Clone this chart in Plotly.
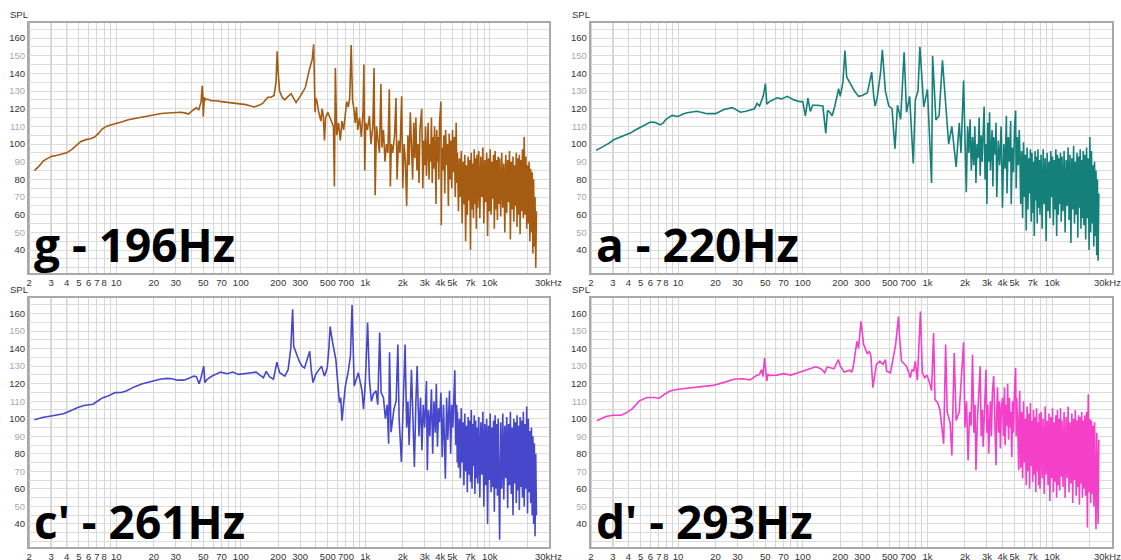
import numpy as np
import plotly.graph_objects as go

W, H = 1121, 560

# ---------------- data ----------------
titles = ["g - 196Hz", "a - 220Hz", "c' - 261Hz", "d' - 293Hz"]
colors = ["#a65b13", "#15807a", "#4747cc", "#f43fc8"]

# low / mid frequency part of each spectrum: (Hz, dB SPL)
g_points = [(2.2,85),(2.4,87.5),(2.6,90.5),(2.8,92),(3,93),(3.3,93.5),(3.6,94),(4,95),(4.4,97),(4.8,99.5),
            (5.2,101.5),(5.7,102.5),(6.2,103),(6.7,104),(7.2,106),(7.7,108.5),(8.3,110),(9,110.8),(10,111.5),
            (11,112.5),(12.5,113.8),(14,114.5),(16,115.3),(18,116),(20,116.8),(23,117.3),(26,117.6),(30,118),
            (33,118),(36,117.5),(38,117),(41,119),(44,120.5),(46,119.5),(47,121.5),(48,124),(49,133),(49.5,128),
            (50,115.5),(50.5,122),(51,126.5),(52,125),(54,125.5),(58,124.5),(63,124.5),(70,124),(80,123.5),
            (90,123),(100,122.5),(110,122.3),(120,121.5),(128,121),(140,122),(150,123),(158,125),(165,126.5),
            (175,126.5),(185,127.5),(192,135),(196,152.5),(200,140),(205,130),(215,126.5),(225,125),(240,127),
            (254,128.5),(265,126),(278,123.5),(300,127),(330,132),(355,142),(375,148),(385,156.5),(392,130),
            (395,118),(400,126),(410,124),(420,119),(430,116),(440,113),(450,120),(460,116),(470,102),(480,115),
            (500,118),(520,115),(540,113),(555,110),(565,76),(575,143),(590,105),(610,112),(630,102),(650,113),
            (670,108),(690,118),(710,124),(730,121),(750,126),(770,156),(790,125),(810,120),(830,112),(850,121),
            (870,108),(900,115),(930,104),(960,119),(975,145),(990,85),(1010,112),(1040,108),(1080,116),
            (1110,100),(1150,110),(1176,143),(1200,71),(1230,110),(1260,104),(1300,95),(1335,134),(1360,98),
            (1400,108),(1440,90),(1480,100),(1520,95),(1560,131),(1590,76),(1620,100),(1660,95),(1720,105),
            (1764,126),(1800,80),(1850,102),(1900,95),(1960,127),(2000,75),(2050,100),(2100,90),(2150,65),
            (2200,105),(2250,88),(2300,118),(2350,95),(2400,80),(2450,112),(2500,92),(2550,115),(2600,85),
            (2650,100),(2700,78),(2750,108),(2840,120),(2900,75),(2950,102),(3000,88),(3050,110),(3100,82),
            (3150,98),(3200,112),(3250,80),(3300,100),(3350,90),(3400,115),(3450,78),(3500,104),(3550,86),
            (3600,110),(3650,95),(3700,66),(3750,108),(3800,90),(3850,104),(3900,80),(3950,112),(4050,124),
            (4080,54),(4120,98),(4200,85),(4280,105),(4350,72),(4420,108),(4500,88),(4580,100),(4650,65),
            (4720,106),(4800,80),(4880,102),(4950,75),(5020,108),(5100,84),(5200,104),(5280,70),(5370,112),
            (5450,78)]

a_points = [(2.2,96.4),(2.5,98.5),(2.8,100.5),(3.04,102.4),(3.5,104.2),(4.14,106.2),(4.5,107.8),(5,109.6),
            (5.5,111.2),(6,112.4),(6.5,112.3),(7.2,110.9),(7.6,112),(8,114),(8.95,116.2),(10,115.6),(11,117),
            (11.8,117.7),(14.2,118.6),(17,117.2),(20,117.2),(23.3,119.6),(27.2,120.6),(31.7,118),(35,118.6),
            (38,119.4),(41,120),(43,123),(45,121.5),(47,125),(48.5,128),(50.2,134.2),(51.5,122.5),(54,124),
            (58,125),(62.3,126.2),(68,125.5),(75,127),(85,125),(95,124),(100,124),(105,116),(110,126),
            (115,118.5),(120,122),(130,122),(145,121.5),(150,110),(153,106),(158,119),(165,118),(172,116),
            (180,121),(194,131.3),(200,127),(210,135),(218,153),(225,138),(240,134),(260,130),(280,127),
            (300,127.5),(330,129),(357,140.7),(370,128),(380,121.5),(395,126),(420,140),(435,153.4),(445,142),
            (460,130),(490,121.5),(520,120),(549,97.3),(575,122),(610,114),(630,133),(650,152),(680,118),
            (720,127),(770,89),(800,125),(840,130),(870,155),(935,121),(1000,131),(1080,78),(1100,150),
            (1170,113.6),(1240,116),(1320,147.4),(1400,122),(1480,100),(1570,110),(1700,87),(1800,112),
            (1860,95),(1950,136),(2050,72.7),(2100,110),(2150,95),(2200,114),(2250,85),(2300,104),(2350,88),
            (2400,110),(2450,78),(2500,100),(2550,92),(2600,115),(2650,82),(2700,105),(2750,90),(2850,121.3),
            (2900,80),(2950,100),(3000,66),(3050,112),(3100,90),(3150,118),(3200,85),(3300,108),(3350,76),
            (3400,104),(3500,94),(3550,112),(3600,70),(3700,102),(3800,88),(3900,110),(4000,64),(4100,100),
            (4200,86),(4300,116),(4350,72),(4450,104),(4550,90),(4650,113),(4700,66),(4800,98),(4900,84),
            (5000,110),(5100,119),(5150,75),(5250,104),(5350,88),(5450,108)]

c_points = [(2.2,99.4),(2.6,100.8),(3.08,101.7),(3.76,102.8),(4.3,104.6),(4.9,106.4),(5.5,107.5),(6,107.7),
            (6.5,108.3),(7.2,110.4),(7.8,112),(8.6,113),(9.8,114.9),(11,115),(12,115.8),(14.1,118.3),
            (16,119.8),(18.4,121),(22.4,122.5),(25.6,123),(28,122.8),(31,122),(35,122),(38,123),(42,124.3),
            (44,124),(46.3,120),(48,123.5),(49.5,127),(50.4,130),(51.5,120.6),(53,122),(56,123.4),(60,124.7),
            (68.8,126.6),(78,125.7),(86,126.6),(96,125.3),(110,125.8),(133,126.6),(145,124.5),(152,123.4),
            (160,127),(170,124),(183,122.5),(195,132.3),(205,126.2),(226,124.3),(240,128),(252,140),
            (261,162.5),(266,141.3),(295,132.8),(310,130),(325,129),(340,133.8),(358,138.5),(368,128),
            (380,120.6),(400,125.3),(425,128),(445,130),(470,124.3),(495,129),(510,140),(522,152.6),
            (545,144),(580,133.8),(620,109.2),(635,112),(650,98.9),(690,118),(730,127),(760,135.7),
            (783,164.9),(800,140),(815,118.7),(880,126.2),(920,118),(940,116),(968,105.5),(1000,120),
            (1044,154.9),(1080,122),(1120,110),(1160,114),(1220,116),(1260,108),(1305,149.2),(1340,114.9),
            (1400,112),(1450,100),(1500,108),(1540,85.7),(1566,137.9),(1610,92.3),(1700,105.5),(1770,110),
            (1827,142.3),(1870,100),(1950,75.3),(2000,105),(2088,142.3),(2150,95),(2200,110),(2250,85),
            (2349,128),(2420,98),(2480,72.5),(2550,110),(2610,130),(2700,90),(2780,112),(2850,82),(2920,108),
            (3000,95),(3100,121.5),(3150,70.6),(3220,105),(3300,90),(3400,116.8),(3480,80),(3560,110),
            (3650,92),(3720,120),(3800,84),(3880,106),(3950,98),(4050,114.9),(4150,78),(4250,108),
            (4400,65.8),(4500,112),(4600,88),(4750,116),(4850,80),(4950,108),(5050,95),(5150,110),
            (5240,127.7),(5320,85),(5420,108),(5480,75)]

d_points = [(2.23,98.9),(2.63,101.3),(3,102),(3.5,102),(3.9,103.6),(4.3,105.8),(4.9,110.2),(5.6,112.1),
            (6.4,112.1),(7.05,111.7),(7.8,114),(8.6,115.8),(10,116.8),(11.9,117.4),(15.5,118.7),(19,119),
            (23.1,120.6),(28,122.5),(33,122.8),(37.8,122.1),(41.7,124.3),(45,125.3),(46.8,128.1),(48,124),
            (49.4,134.7),(50.5,126),(51.5,121.5),(52.5,125.5),(54,124.7),(62,124.9),(70,125.7),(80.5,124.9),
            (91.8,126.2),(105,127.7),(127,129.6),(140,128.5),(150,126.2),(157,129.6),(178,128.5),(193,133.8),
            (200,130),(215,126.6),(238,127.7),(247,126.5),(254,129.6),(272,144.2),(280,140),(293,155.5),
            (308,142.3),(330,137),(342,138.5),(352,136),(365,117.7),(390,131),(415,132.8),(440,131),
            (460,133.8),(470,127.2),(505,126.2),(556,142.3),(586,158.3),(600,145),(620,132.8),(680,130),
            (730,123.4),(750,128),(775,127),(800,132.8),(830,122),(879,161.1),(890,150),(910,126.2),
            (950,123.4),(990,125),(1040,120.6),(1080,116),(1120,148.9),(1150,111),(1210,109),(1260,105),
            (1350,85.7),(1400,142.3),(1440,104),(1520,97.6),(1570,79),(1640,137.5),(1700,99),(1800,104),
            (1950,143.6),(2000,95),(2060,110),(2120,76.2),(2180,104),(2240,96),(2300,136.6),(2360,92),
            (2410,108),(2450,70.6),(2520,100),(2580,112),(2650,130),(2700,90),(2760,105),(2800,84),
            (2870,112),(2950,128),(3000,92),(3050,108),(3100,80),(3160,102),(3200,110),(3260,90),(3320,115),
            (3400,124.3),(3460,96),(3550,73.4),(3600,105),(3650,118),(3720,92),(3790,110),(3850,83),
            (3920,106),(4000,112),(4080,90),(4150,118),(4200,85),(4280,108),(4350,96),(4400,120),(4480,88),
            (4550,112),(4600,95),(4680,104),(4750,78),(4820,110),(4900,92),(4980,115),(5100,129),(5150,90),
            (5200,112),(5300,96),(5400,70.6),(5450,104)]

# dense high-frequency part: shared frequency bins (Hz) and per-panel levels (dB)
dense_freq = [5500,5600,5700,5800,5900,6000,6100,6200,6300,6400,6500,6600,6700,6800,6900,7000,7100,7200,7300,
              7400,7500,7600,7700,7800,7900,
              8000,8160,8320,8480,8640,8800,8960,9120,9280,9440,9600,9760,9920,10080,10240,10400,10560,10720,
              10880,11040,11200,11360,11520,11680,11840,
              12000,12240,12480,12720,12960,13200,13440,13680,13920,14160,14400,14640,14880,15120,15360,15600,
              15840,16080,16320,16560,16800,17040,17280,17520,17760,
              18000,18300,18600,18900,19200,19500,19800,20100,20400,20700,21000,21300,21600,21900,22200,22500,
              22800,23100,23400,23700]

g_dense = [95,62,92,70,96,55,90,66,94,45,88,60,93,68,91,40,95,63,89,58,97,66,92,52,94,
           64,96,58,93,70,98,55,91,67,95,48,92,62,97,60,90,69,94,52,96,63,91,57,93,66,
           92,59,95,64,89,50,94,61,91,67,96,46,90,63,93,56,88,65,95,53,92,60,94,49,91,
           62,97,58,104,60,93,52,88,55,90,45,86,50,84,38,80,42,70,30,62]
a_dense = [99,66,96,58,101,70,94,51,98,63,92,72,97,56,95,61,90,48,96,68,93,55,97,64,91,
           60,94,52,97,66,92,45,95,62,90,58,96,70,93,54,91,63,97,48,94,60,92,66,95,56,
           93,62,96,50,91,65,98,57,94,44,92,63,99,55,90,60,95,47,93,64,97,52,91,58,96,
           54,94,46,98,58,92,40,104,50,96,55,88,42,90,48,85,37,80,34,72]
c_dense = [104,72,100,66,106,75,98,62,103,70,96,58,101,68,99,64,105,60,97,73,102,57,99,66,95,
           63,101,55,98,68,104,50,97,62,100,40,96,65,103,58,95,61,99,47,102,60,97,56,100,64,
           31,98,60,103,54,96,66,101,49,97,62,104,57,95,45,100,63,98,52,102,59,96,48,101,61,
           99,55,104,50,97,60,107,46,100,58,93,52,95,45,90,40,86,33,80,45]
d_dense = [116,72,104,66,110,75,100,62,107,70,103,60,109,73,99,64,105,68,101,58,106,70,98,62,103,
           60,104,66,100,57,107,68,99,62,103,53,101,66,106,58,98,64,102,55,105,62,100,59,106,67,
           99,61,104,55,101,66,107,58,98,63,103,52,100,65,105,56,99,61,102,51,101,63,104,55,99,
           60,102,56,104,38,114,58,100,52,99,57,96,50,98,62,37,92,55,40,88]

# axis ticks
x_grid = [2,3,4,5,6,7,8,9,10,20,30,40,50,60,70,80,90,100,200,300,400,500,600,700,800,900,
          1000,2000,3000,4000,5000,6000,7000,8000,9000,10000,20000,30000]
x_labels = {2:"2",3:"3",4:"4",5:"5",6:"6",7:"7",8:"8",10:"10",20:"20",30:"30",50:"50",70:"70",
            100:"100",200:"200",300:"300",500:"500",700:"700",1000:"1k",2000:"2k",3000:"3k",
            4000:"4k",5000:"5k",7000:"7k",10000:"10k"}
end_label = "30kHz"
decades = [10, 100, 1000, 10000]
y_grid = list(range(30, 170, 5))
y_labels = list(range(40, 170, 10))

# ---------------- layout geometry ----------------
x_domains = [[29.0/W, 549.3/W], [590.7/W, 1111.7/W]]
y_domains = [[1-273.0/H, 1-22.7/H], [1-546.7/H, 1-298.3/H]]
panel_pos = [(0, 0), (1, 0), (0, 1), (1, 1)]   # (col, row)
end_label_x = [548.0, 1107.0]
title_y = [243.5, 521.0]

fig = go.Figure()
datasets = [(g_points, g_dense), (a_points, a_dense), (c_points, c_dense), (d_points, d_dense)]

ytext = []
for v in y_grid:
    if v in y_labels:
        col = "#333333" if (v // 10) % 2 == 0 else "#a8a8a8"
        ytext.append(f"<span style='color:{col}'>{v}</span>")
    else:
        ytext.append("")
xtext = [x_labels.get(v, "") for v in x_grid]

FONT = "Liberation Sans, Arial, sans-serif"
tick_font = dict(family=FONT, size=9.5, color="#333333")
shapes = []
annotations = []

for i, ((pts, dense), color, title) in enumerate(zip(datasets, colors, titles)):
    f_lo, s_lo = zip(*pts)
    xs = list(f_lo) + dense_freq
    ys = list(s_lo) + dense
    n = "" if i == 0 else str(i + 1)
    fig.add_trace(go.Scatter(x=xs, y=ys, mode="lines", line=dict(color=color, width=1.6),
                             xaxis="x" + n, yaxis="y" + n, hoverinfo="skip"))
    col, row = panel_pos[i]
    xa = dict(type="log", domain=x_domains[col], range=[np.log10(2) - 0.002, np.log10(30000) + 0.001],
              tickvals=x_grid, ticktext=xtext, tickangle=0, automargin=False,
              showgrid=True, gridcolor="#d6d6d6", gridwidth=1,
              zeroline=False, showline=True, linecolor="#a9a9a9", linewidth=2, mirror=True,
              ticks="", tickfont=tick_font, anchor="y" + n, fixedrange=True)
    ya = dict(domain=y_domains[row], range=[27.0, 168.7], tickvals=y_grid, ticktext=ytext,
              automargin=False, showgrid=True, gridcolor="#dcdcdc", gridwidth=1, zeroline=False,
              showline=True, linecolor="#a9a9a9", linewidth=2, mirror=True, ticks="",
              tickfont=tick_font, anchor="x" + n, fixedrange=True)
    fig.update_layout({"xaxis" + n: xa, "yaxis" + n: ya})
    for dv in decades:
        shapes.append(dict(type="line", xref="x" + n, yref="y" + n + " domain",
                           x0=np.log10(dv), x1=np.log10(dv), y0=0, y1=1,
                           line=dict(color="#9a9a9a", width=1), layer="below"))
    # "30kHz" end label
    annotations.append(dict(text=end_label, xref="paper", yref="paper",
                            x=end_label_x[col] / W, y=y_domains[row][0] - 9.5 / H,
                            xanchor="center", yanchor="middle", showarrow=False,
                            font=tick_font))
    # SPL label
    annotations.append(dict(text="SPL", xref="paper", yref="paper",
                            x=(x_domains[col][0] * W - 21) / W, y=y_domains[row][1] + 8.5 / H,
                            xanchor="left", yanchor="middle", showarrow=False,
                            font=dict(family=FONT, size=9.5, color="#333333")))
    # big title
    annotations.append(dict(text="<b>" + title + "</b>", xref="paper", yref="paper",
                            x=(x_domains[col][0] * W + 3) / W, y=1 - title_y[row] / H,
                            xanchor="left", yanchor="middle", showarrow=False,
                            font=dict(family="Open Sans, Noto Sans, sans-serif", size=46, color="#000000")))

fig.update_layout(width=W, height=H, margin=dict(l=0, r=0, t=0, b=0),
                  paper_bgcolor="white", plot_bgcolor="white", showlegend=False,
                  shapes=shapes, annotations=annotations)

fig.write_html("out.html", config={"displayModeBar": False, "staticPlot": True},
               post_script="document.body.style.margin='0';document.body.style.overflow='hidden';")
